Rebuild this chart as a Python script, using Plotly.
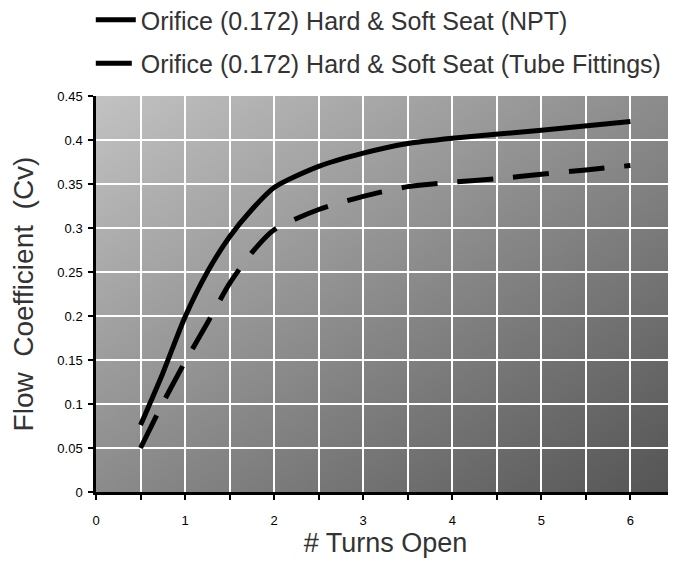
import base64
import plotly.graph_objects as go

# ---- data ----
turns_npt = [0.5, 0.75, 1, 1.25, 1.5, 1.75, 2, 2.5, 3, 3.5, 4, 5, 6]
cv_npt = [0.076, 0.135, 0.199, 0.250, 0.290, 0.321, 0.346, 0.370, 0.385, 0.396, 0.402, 0.411, 0.421]

turns_tube = [0.5, 0.75, 1, 1.25, 1.5, 1.75, 2, 2.5, 3, 3.5, 4, 4.5, 5, 5.5, 6]
cv_tube = [0.050, 0.101, 0.148, 0.192, 0.237, 0.272, 0.298, 0.321, 0.336, 0.347, 0.352, 0.356, 0.361, 0.366, 0.371]

name_npt = "Orifice (0.172) Hard & Soft Seat (NPT)"
name_tube = "Orifice (0.172) Hard & Soft Seat (Tube Fittings)"

x_tickvals = [0, 1, 2, 3, 4, 5, 6]
x_ticktext = ["0", "1", "2", "3", "4", "5", "6"]
y_tickvals = [0, 0.05, 0.1, 0.15, 0.2, 0.25, 0.3, 0.35, 0.4, 0.45]
y_ticktext = ["0", "0.05", "0.1", "0.15", "0.2", "0.25", "0.3", "0.35", "0.4", "0.45"]

# ---- background gradient (decorative) ----
svg = (
    '<svg xmlns="http://www.w3.org/2000/svg" width="100" height="100" '
    'viewBox="0 0 100 100" preserveAspectRatio="none">'
    '<defs><linearGradient id="g" x1="0" y1="0" x2="1" y2="1">'
    '<stop offset="0" stop-color="#c2c2c2"/>'
    '<stop offset="1" stop-color="#545454"/>'
    '</linearGradient></defs>'
    '<rect width="100" height="100" fill="url(#g)"/></svg>'
)
bg_src = "data:image/svg+xml;base64," + base64.b64encode(svg.encode()).decode()

fig = go.Figure()
fig.add_trace(go.Scatter(
    x=turns_npt, y=cv_npt, name=name_npt, mode="lines",
    line=dict(color="black", width=5, shape="spline", smoothing=0.7),
    legendgroup="a",
))
fig.add_trace(go.Scatter(
    x=turns_tube, y=cv_tube, name=name_tube, mode="lines",
    line=dict(color="black", width=5, shape="spline", smoothing=0.7, dash="36px,20px"),
    legendgroup="b",
))

fig.add_layout_image(dict(
    source=bg_src, xref="paper", yref="paper", x=0, y=1, sizex=1, sizey=1,
    xanchor="left", yanchor="top", sizing="stretch", layer="below",
))

tick_font = dict(family="Liberation Sans, Arial, sans-serif", size=13, color="black")
title_family = "Liberation Sans, Arial, sans-serif"

fig.update_layout(
    width=676, height=565,
    margin=dict(l=88, r=9, t=88, b=81, autoexpand=False),
    paper_bgcolor="white",
    plot_bgcolor="rgba(0,0,0,0)",
    showlegend=True,
    legend=dict(
        x=-0.009, y=1.25, xanchor="left", yanchor="top",
        font=dict(family=title_family, size=25, color="#333333"),
        bgcolor="rgba(0,0,0,0)",
        tracegroupgap=8,
        itemwidth=40,
    ),
    xaxis=dict(
        range=[0, 6.5],
        tickvals=x_tickvals, ticktext=x_ticktext,
        showgrid=True, gridcolor="white", gridwidth=2,
        showline=True, linecolor="black", linewidth=2.5,
        ticks="outside", ticklen=5, tickwidth=2, tickcolor="black",
        ticklabelstandoff=10,
        tickfont=tick_font,
        zeroline=False,
        automargin=False,
        minor=dict(dtick=0.5, tick0=0, showgrid=True, gridcolor="white", gridwidth=2,
                   ticks="outside", ticklen=5, tickwidth=2, tickcolor="black"),
        title=dict(text="# Turns Open",
                   font=dict(family=title_family, size=27, color="#333333"),
                   standoff=4),
    ),
    yaxis=dict(
        range=[0, 0.45],
        tickvals=y_tickvals, ticktext=y_ticktext,
        showgrid=True, gridcolor="white", gridwidth=2,
        showline=True, linecolor="black", linewidth=2.5,
        ticks="outside", ticklen=5, tickwidth=2, tickcolor="black",
        ticklabelstandoff=3,
        tickfont=tick_font,
        zeroline=False,
        automargin=False,
        title=dict(text="Flow  Coefficient  (Cv)",
                   font=dict(family=title_family, size=28, color="#333333"),
                   standoff=20),
    ),
)

fig.write_html("out.html")
